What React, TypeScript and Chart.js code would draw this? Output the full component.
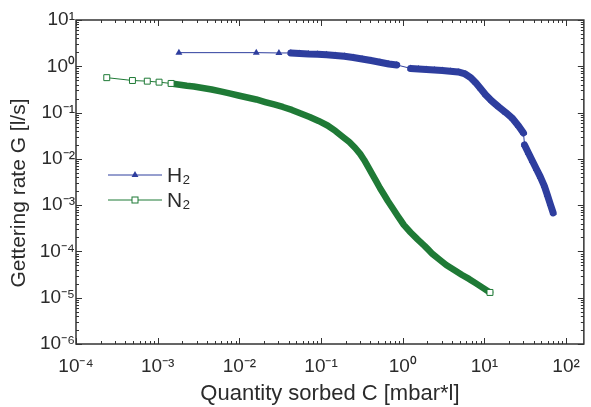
import { useEffect, useRef } from 'react';
import { Chart, registerables } from 'chart.js';

Chart.register(...registerables);

// Axis decades (log10 exponents) and ranges
const X_DECADES = [-4, -3, -2, -1, 0, 1, 2];
const Y_DECADES = [-6, -5, -4, -3, -2, -1, 0, 1];
const X_MIN = 1e-4;
const X_MAX = 165;
const Y_MIN = 1e-6;
const Y_MAX = 10;

const SERIES_LABELS = ['H₂', 'N₂'];
const X_TITLE = 'Quantity sorbed C [mbar*l]';
const Y_TITLE = 'Gettering rate G [l/s]';

// H2: quantity sorbed C [mbar*l] and gettering rate G [l/s]
const H2_C = [
  0.00182, 0.0161, 0.0305, 0.0427, 0.0548, 0.0705, 0.0907, 0.1167, 0.150, 0.193,
  0.248, 0.318, 0.409, 0.526, 0.676, 0.845,
  1.25, 1.56, 1.95, 2.44, 3.05, 3.82, 4.77, 5.81, 6.86, 7.89, 9.07, 10.4, 12.3,
  15.0, 18.2, 22.1, 26.2, 30.1,
  31.0, 34.6, 38.7, 43.3, 48.4, 54.1, 58.9, 64.0, 69.5,
];
const H2_G = [
  1.97, 1.97, 1.94, 1.94, 1.89, 1.84, 1.82, 1.77, 1.71, 1.64,
  1.55, 1.44, 1.33, 1.22, 1.12, 1.07,
  0.90, 0.875, 0.853, 0.832, 0.812, 0.783, 0.753, 0.682, 0.559, 0.435, 0.323, 0.240, 0.178,
  0.132, 0.1005, 0.0746, 0.0514, 0.0362,
  0.0200, 0.0134, 0.00901, 0.00605, 0.00407, 0.0026, 0.00166, 0.00106, 0.000679,
];

// N2
const N2_C = [
  0.000238, 0.000491, 0.000746, 0.00104, 0.00146,
  0.00187, 0.00228, 0.00277, 0.00356, 0.00458, 0.00589, 0.00757, 0.00973, 0.0125, 0.0161,
  0.0207, 0.0266, 0.0341, 0.0439, 0.0565, 0.0726, 0.0933, 0.120, 0.150, 0.182, 0.222,
  0.262, 0.301, 0.337, 0.377, 0.421, 0.471, 0.526, 0.589, 0.658, 0.757, 0.869, 0.946, 1.03,
  1.25, 1.52, 1.85, 2.07, 2.31, 2.81, 3.41, 4.27, 5.33, 6.48, 7.89, 9.59, 11.7,
];
const N2_G = [
  0.568, 0.493, 0.477, 0.454, 0.426,
  0.398, 0.379, 0.366, 0.340, 0.315, 0.286, 0.259, 0.234, 0.212, 0.192,
  0.169, 0.150, 0.132, 0.114, 0.0957, 0.0804, 0.0659, 0.0526, 0.0401, 0.0305, 0.0232,
  0.0172, 0.0128, 0.00946, 0.00668, 0.00472, 0.00333, 0.00235, 0.00170, 0.00123, 0.000849, 0.000585, 0.000468, 0.000374,
  0.000257, 0.000182, 0.000132, 0.000108, 0.0000884, 0.0000671, 0.0000511, 0.0000398, 0.0000310, 0.0000255, 0.0000204, 0.0000163, 0.0000130,
];

const BLUE = '#2e3e9e';
const GREEN = '#1f7a36';
const TEXT = '#2b2b2b';
const FONT = '"Liberation Sans", Arial, Helvetica, sans-serif';

const SUP: Record<string, string> = {
  '-': '⁻', '0': '⁰', '1': '¹', '2': '²', '3': '³', '4': '⁴',
  '5': '⁵', '6': '⁶', '7': '⁷', '8': '⁸', '9': '⁹',
};
const powLabel = (e: number) => '10' + String(e).split('').map((c) => SUP[c] ?? c).join('');

function decadeTicks(decades: number[], min: number, max: number) {
  const out: { value: number; major: boolean }[] = [];
  decades.forEach((e) => {
    for (let m = 1; m <= 9; m++) {
      const v = m * Math.pow(10, e);
      if (v >= min * 0.999999 && v <= max * 1.000001) out.push({ value: v, major: m === 1 });
    }
  });
  return out;
}

const tickLabel = (value: number | string) => {
  const v = Number(value);
  const e = Math.log10(v);
  const r = Math.round(e);
  return Math.abs(e - r) < 1e-6 ? powLabel(r) : '';
};

const THIN_GAP = 11.5;

const frameAndLegend = {
  id: 'frameAndLegend',
  afterDatasetsDraw(chart: any) {
    const { ctx, chartArea, scales } = chart;
    const { left, right, top, bottom } = chartArea;
    ctx.save();
    ctx.strokeStyle = '#333';
    ctx.lineWidth = 1;
    ctx.beginPath();
    scales.x.ticks.forEach((t: any) => {
      const px = Math.round(scales.x.getPixelForValue(t.value)) + 0.5;
      const len = t.major ? 6 : 3;
      ctx.moveTo(px, bottom);
      ctx.lineTo(px, bottom - len);
      ctx.moveTo(px, top);
      ctx.lineTo(px, top + len);
    });
    scales.y.ticks.forEach((t: any) => {
      const py = Math.round(scales.y.getPixelForValue(t.value)) + 0.5;
      const len = t.major ? 6 : 3;
      ctx.moveTo(left, py);
      ctx.lineTo(left + len, py);
      ctx.moveTo(right, py);
      ctx.lineTo(right - len, py);
    });
    ctx.stroke();
    ctx.lineWidth = 1.5;
    ctx.strokeRect(left, top, right - left, bottom - top);

    // legend
    const lx0 = left + 32;
    const lx1 = left + 86;
    const rows = [top + 155, top + 180];
    chart.data.datasets.forEach((ds: any, i: number) => {
      const y = rows[i];
      const mx = (lx0 + lx1) / 2;
      ctx.strokeStyle = ds.borderColor;
      ctx.lineWidth = 1;
      ctx.beginPath();
      ctx.moveTo(lx0, y);
      ctx.lineTo(lx1, y);
      ctx.stroke();
      if (ds.pointStyle === 'triangle') {
        const r = 4;
        ctx.fillStyle = ds.borderColor;
        ctx.beginPath();
        ctx.moveTo(mx, y - r);
        ctx.lineTo(mx + r * 0.866, y + r / 2);
        ctx.lineTo(mx - r * 0.866, y + r / 2);
        ctx.closePath();
        ctx.fill();
      } else {
        ctx.fillStyle = '#fff';
        ctx.fillRect(mx - 3, y - 3, 6, 6);
        ctx.strokeRect(mx - 3, y - 3, 6, 6);
      }
      ctx.fillStyle = TEXT;
      ctx.font = `21px ${FONT}`;
      ctx.textAlign = 'left';
      ctx.textBaseline = 'middle';
      ctx.fillText(ds.label, lx1 + 5, y + 1);
    });

    // y-axis title
    ctx.save();
    ctx.translate(19, (top + bottom) / 2 + 11);
    ctx.rotate(-Math.PI / 2);
    ctx.fillStyle = TEXT;
    ctx.font = `21px ${FONT}`;
    ctx.textAlign = 'center';
    ctx.textBaseline = 'middle';
    ctx.fillText(Y_TITLE, 0, 0);
    ctx.restore();

    ctx.restore();
  },
};

function segGap(ctx: any) {
  return Math.hypot(ctx.p1.x - ctx.p0.x, ctx.p1.y - ctx.p0.y);
}

function pointGapShow(ctx: any) {
  const chart = ctx.chart;
  const ds = chart.data.datasets[ctx.datasetIndex];
  const i = ctx.dataIndex;
  const pts = ds.data;
  if (i === pts.length - 1 || i === 0) return true;
  const sx = chart.scales.x;
  const sy = chart.scales.y;
  const px = (k: number) => [sx.getPixelForValue(pts[k].x), sy.getPixelForValue(pts[k].y)];
  const [x0, y0] = px(i - 1);
  const [x1, y1] = px(i);
  const [x2, y2] = px(i + 1);
  return Math.hypot(x1 - x0, y1 - y0) > THIN_GAP || Math.hypot(x2 - x1, y2 - y1) > THIN_GAP;
}

export default function App() {
  const ref = useRef<HTMLCanvasElement | null>(null);

  useEffect(() => {
    if (!ref.current) return;
    const h2 = H2_C.map((c, i) => ({ x: c, y: H2_G[i] }));
    const n2 = N2_C.map((c, i) => ({ x: c, y: N2_G[i] }));
    const chart = new Chart(ref.current, {
      type: 'line',
      data: {
        datasets: [
          {
            label: SERIES_LABELS[0],
            data: h2,
            borderColor: BLUE,
            backgroundColor: BLUE,
            pointStyle: 'triangle',
            pointRadius: 4,
            pointBackgroundColor: BLUE,
            pointBorderColor: BLUE,
            pointBorderWidth: 0,
            borderWidth: 1,
            borderCapStyle: 'round',
            borderJoinStyle: 'round',
            tension: 0,
            segment: { borderWidth: (c: any) => (segGap(c) > THIN_GAP ? 1 : 7) },
          } as any,
          {
            label: SERIES_LABELS[1],
            data: n2,
            borderColor: GREEN,
            backgroundColor: '#fff',
            pointStyle: 'rect',
            pointRadius: (c: any) => (pointGapShow(c) ? 4.2 : 0),
            pointBackgroundColor: '#fff',
            pointBorderColor: GREEN,
            pointBorderWidth: 1,
            borderWidth: 1,
            borderCapStyle: 'round',
            borderJoinStyle: 'round',
            tension: 0,
            segment: { borderWidth: (c: any) => (segGap(c) > THIN_GAP ? 1 : 6.5) },
          } as any,
        ],
      },
      options: {
        animation: false,
        responsive: false,
        devicePixelRatio: 1,
        layout: { padding: { left: 0, right: 2, top: 20, bottom: 0 } },
        plugins: { legend: { display: false }, tooltip: { enabled: false } },
        scales: {
          x: {
            type: 'logarithmic',
            min: X_MIN,
            max: X_MAX,
            bounds: 'data',
            afterBuildTicks: (s: any) => { s.ticks = decadeTicks(X_DECADES, X_MIN, X_MAX); },
            afterFit: (s: any) => { s.height = 63; },
            grid: { display: false, drawTicks: false },
            border: { display: false },
            ticks: {
              autoSkip: false,
              maxRotation: 0,
              minRotation: 0,
              padding: 11,
              color: TEXT,
              font: { family: FONT, size: 19 },
              callback: tickLabel,
            },
            title: {
              display: true,
              text: X_TITLE,
              color: TEXT,
              font: { family: FONT, size: 22 },
              padding: { top: 0, bottom: 0 },
            },
          },
          y: {
            type: 'logarithmic',
            min: Y_MIN,
            max: Y_MAX,
            bounds: 'data',
            afterBuildTicks: (s: any) => { s.ticks = decadeTicks(Y_DECADES, Y_MIN, Y_MAX); },
            afterFit: (s: any) => { s.width = 76; },
            grid: { display: false, drawTicks: false },
            border: { display: false },
            ticks: {
              autoSkip: false,
              padding: 1,
              color: TEXT,
              font: { family: FONT, size: 19 },
              callback: tickLabel,
            },
            title: { display: false, text: Y_TITLE },
          },
        },
      },
      plugins: [frameAndLegend],
    });
    return () => chart.destroy();
  }, []);

  return (
    <div style={{ position: 'absolute', left: 0, top: 0, width: 591, height: 407, background: '#fff' }}>
      <canvas ref={ref} width={591} height={407} style={{ width: 591, height: 407, display: 'block' }} />
    </div>
  );
}
